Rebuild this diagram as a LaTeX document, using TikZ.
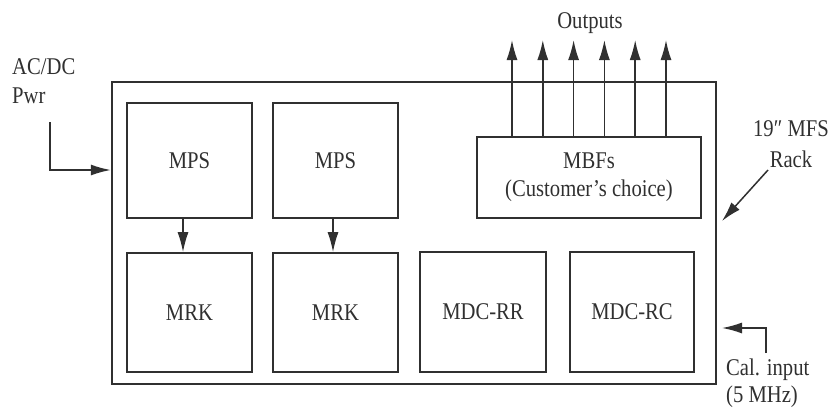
\documentclass[tikz,border=0pt]{standalone}
\usepackage{fontspec}
\setmainfont[FakeStretch=0.86]{Liberation Serif}
\usetikzlibrary{arrows.meta}
\definecolor{ink}{HTML}{303030}
\tikzset{
  box/.style={draw=ink, line width=1.7pt, inner sep=0pt, font=\fontsize{24}{28}\selectfont, text=ink, align=center},
  lbl/.style={inner sep=0pt, font=\fontsize{24}{28}\selectfont, text=ink},
  arr/.style={draw=ink, line width=1.5pt, -{Latex[length=20pt,width=11pt]}},
}
\begin{document}
\begin{tikzpicture}[x=1pt,y=-1pt]
\useasboundingbox (0,0) rectangle (830,410);
% rack
\node[box, line width=2.4pt, minimum width=604pt, minimum height=302pt] (rack) at (414,233) {};
% modules
\node[box, minimum width=125pt, minimum height=115pt] (mps1) at (189.5,160.5) {MPS};
\node[box, minimum width=125pt, minimum height=115pt] (mps2) at (335.5,160.5) {MPS};
\node[box, minimum width=125pt, minimum height=119pt] (mrk1) at (189.5,312.5) {MRK};
\node[box, minimum width=125pt, minimum height=119pt] (mrk2) at (335.5,312.5) {MRK};
\node[box, minimum width=126pt, minimum height=120pt] (mdcrr) at (483,312) {MDC-RR};
\node[box, minimum width=124pt, minimum height=120pt] (mdcrc) at (632,312) {MDC-RC};
\node[box, minimum width=224pt, minimum height=81pt] (mbf) at (589,177.5) {MBFs\\(Customer’s choice)};
% internal arrows
\draw[arr] ([xshift=-6.5pt]mps1.south) -- ([xshift=-6.5pt]mrk1.north);
\draw[arr] ([xshift=-2.5pt]mps2.south) -- ([xshift=-2.5pt]mrk2.north);
% outputs
\node[lbl] (outl) at (590,23) {Outputs};
\foreach \i/\dx in {1/-77,2/-46.2,3/-15.4,4/15.4,5/46.2,6/77}{
  \coordinate (o\i) at ([xshift=\dx pt]mbf.north |- 0,40);
  \draw[arr] ([xshift=\dx pt]mbf.north) -- (o\i);
}
% power input
\node[lbl, align=left, anchor=west, font=\fontsize{24}{29}\selectfont] (pwr) at (12,81) {AC/DC\\Pwr};
\coordinate (p0) at (50,122);
\coordinate (p1) at (0,170);
\draw[arr] (p0) |- (rack.west |- p1);
% rack label
\node[lbl, align=center, font=\fontsize{24}{31}\selectfont] (rackl) at (791,144) {19″ MFS\\Rack};
\coordinate (r0) at (768,170);
\coordinate (r1) at (722,221);
\draw[arr] (r0) -- (r1);
% cal input
\node[lbl, align=left, anchor=west, font=\fontsize{24}{27}\selectfont] (cal) at (726,383.5) {Cal. input\\(5 MHz)};
\coordinate (c0) at (766,353);
\coordinate (c1) at (722,328);
\draw[arr] (c0) |- (c1);
\end{tikzpicture}
\end{document}
